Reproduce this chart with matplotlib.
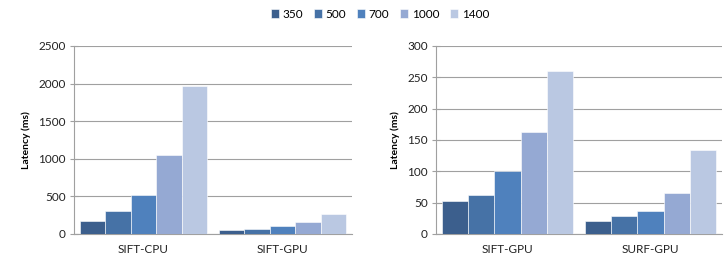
import matplotlib.pyplot as plt
import numpy as np

plt.rcParams["font.family"] = ["Lato", "DejaVu Sans"]

SIZES = ["350", "500", "700", "1000", "1400"]
COLORS = ["#3C5F8D", "#4672A6", "#4F81BD", "#95A9D3", "#BAC8E2"]

LEFT_CATS = ["SIFT-CPU", "SIFT-GPU"]
LEFT_VALUES = [
    [175, 50],
    [305, 62],
    [520, 100],
    [1050, 160],
    [1970, 260],
]

RIGHT_CATS = ["SIFT-GPU", "SURF-GPU"]
RIGHT_VALUES = [
    [52, 21],
    [63, 28],
    [101, 36],
    [162, 65],
    [260, 134],
]


def plot(ax, cats, values, ymax, step):
    n = len(values)
    width = 0.92 / n
    x = np.arange(len(cats))
    for i, vals in enumerate(values):
        offs = (i - (n - 1) / 2) * width
        ax.bar(x + offs, vals, width, color=COLORS[i], label=SIZES[i],
               edgecolor="white", linewidth=0.4, zorder=3)
    ax.set_xlim(-0.5, len(cats) - 0.5)
    ax.set_ylim(0, ymax)
    ax.set_yticks(np.arange(0, ymax + 1, step))
    ax.set_xticks(x)
    ax.set_xticklabels(cats)
    ax.grid(axis="y", color="#A0A0A0", linewidth=0.8, zorder=0)
    for s in ["top", "right"]:
        ax.spines[s].set_visible(False)
    for s in ["left", "bottom"]:
        ax.spines[s].set_color("#A0A0A0")
        ax.spines[s].set_linewidth(0.8)
    ax.tick_params(labelsize=8.5, colors="#222222")
    ax.tick_params(axis="x", length=0, pad=7)
    ax.tick_params(axis="y", direction="inout", length=6, width=0.8,
                   color="#A0A0A0", pad=3)
    ax.set_ylabel("Latency (ms)", fontsize=7.5, fontweight="bold", labelpad=5)


fig = plt.figure(figsize=(7.25, 2.58), dpi=100)
ax1 = fig.add_axes([74 / 725, 1 - 234 / 258, 278 / 725, 188 / 258])
ax2 = fig.add_axes([436 / 725, 1 - 234 / 258, 286 / 725, 188 / 258])

plot(ax1, LEFT_CATS, LEFT_VALUES, 2500, 500)
plot(ax2, RIGHT_CATS, RIGHT_VALUES, 300, 50)

handles, labels = ax1.get_legend_handles_labels()
fig.legend(handles, labels, loc="center", bbox_to_anchor=(380 / 725, 1 - 14 / 258),
           ncol=5, frameon=False, fontsize=8.5, handlelength=0.7, handleheight=0.7,
           handletextpad=0.3, columnspacing=0.9)

fig.savefig("out.png", dpi=100)
